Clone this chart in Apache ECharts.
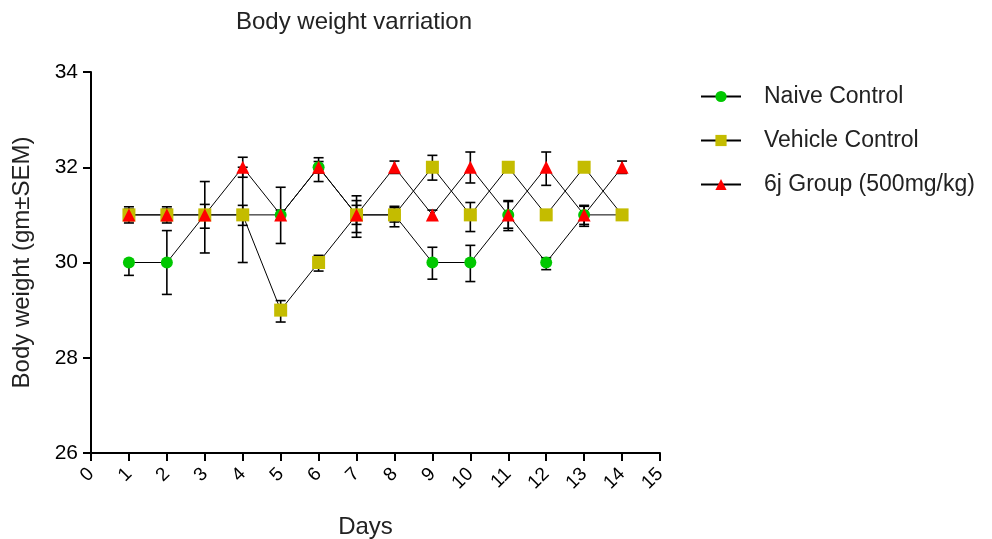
<!DOCTYPE html>
<html>
<head>
<meta charset="utf-8">
<script src="https://cdn.jsdelivr.net/npm/echarts@6/dist/echarts.min.js"></script>
<style>
html,body{margin:0;padding:0;background:#fff;}
#chart{width:992px;height:539px;}
</style>
</head>
<body>
<div id="chart"></div>
<script>
// ---- data ----
const days = [1,2,3,4,5,6,7,8,9,10,11,12,13,14];
const xTicks = [0,1,2,3,4,5,6,7,8,9,10,11,12,13,14,15];
const yTicks = [26,28,30,32,34];

const naiveName = 'Naive Control';
const naiveValues = [30,30,31,31,31,32,31,31,30,30,31,30,31,31];
const naiveErrUp   = [0,0.67,0.7,1.0,0.58,0.2,0.4,0.15,0.32,0.36,0.3,0.1,0.18,0.1];
const naiveErrDown = [0.27,0.67,0.8,1.0,0.6,0.3,0.47,0.15,0.35,0.4,0.33,0.15,0.24,0.1];

const vehicleName = 'Vehicle Control';
const vehicleValues = [31,31,31,31,29,30,31,31,32,31,32,31,32,31];
const vehicleErrUp   = [0.17,0.17,0.22,0.2,0.2,0.15,0.2,0.18,0.25,0.26,0.1,0.1,0.1,0.1];
const vehicleErrDown = [0.17,0.17,0.28,0.22,0.25,0.18,0.2,0.25,0.27,0.35,0.1,0.1,0.1,0.1];

const groupName = '6j Group (500mg/kg)';
const groupValues = [31,31,31,32,31,32,31,32,31,32,31,32,31,32];
const groupErrUp   = [0.12,0.12,0.1,0.21,0.1,0.12,0.3,0.13,0.1,0.32,0.28,0.32,0.2,0.13];
const groupErrDown = [0.12,0.12,0.1,0.21,0.1,0.12,0.37,0.13,0.1,0.33,0.28,0.38,0.2,0.13];

// ---- build ----
const FONT = 'Liberation Sans, Arial, sans-serif';
function pts(vals){ return days.map((d,i)=>[d, vals[i]]); }
function errData(vals, up, down){ return days.map((d,i)=>[d, vals[i], down[i], up[i]]); }

function errSeries(vals, up, down){
  return {
    type:'custom',
    z:2,
    silent:true,
    data: errData(vals, up, down),
    encode:{x:0,y:1},
    renderItem: function(params, api){
      const x = api.value(0), y = api.value(1), lo = api.value(2), hi = api.value(3);
      const top = api.coord([x, y + hi]);
      const bot = api.coord([x, y - lo]);
      const hw = 5;
      const st = {stroke:'#000', lineWidth:1.6};
      const ch = [{type:'line', shape:{x1:top[0],y1:top[1],x2:bot[0],y2:bot[1]}, style:st}];
      if (hi > 0) ch.push({type:'line', shape:{x1:top[0]-hw,y1:top[1],x2:top[0]+hw,y2:top[1]}, style:st});
      if (lo > 0) ch.push({type:'line', shape:{x1:bot[0]-hw,y1:bot[1],x2:bot[0]+hw,y2:bot[1]}, style:st});
      return {type:'group', children: ch};
    }
  };
}

function lineSeries(name, vals, symbol, size, color){
  return {
    name: name,
    type:'line',
    z:3,
    data: pts(vals),
    symbol: symbol,
    symbolSize: size,
    showAllSymbol:true,
    itemStyle:{color: color, borderWidth:0},
    lineStyle:{color:'#000', width:1},
    emphasis:{disabled:true}
  };
}

const chart = echarts.init(document.getElementById('chart'), null, {renderer:'canvas'});
chart.setOption({
  animation:false,
  backgroundColor:'#fff',
  textStyle:{fontFamily:FONT},
  title:{
    text:'Body weight varriation',
    left:354, top:10, textAlign:'center', padding:0,
    textStyle:{fontFamily:FONT, fontSize:24, fontWeight:'normal', color:'#222'}
  },
  legend:{
    data:[naiveName, vehicleName, groupName],
    orient:'vertical',
    left:700, top:85, padding:0,
    itemWidth:40, itemHeight:14, itemGap:21,
    textStyle:{fontFamily:FONT, fontSize:23, color:'#222', padding:[0,0,0,18]}
  },
  grid:{left:91, right:332, top:72, bottom:86, containLabel:false, outerBoundsMode:'none'},
  xAxis:{
    type:'value', min:0, max:15, interval:1,
    name:'Days', nameLocation:'middle', nameGap:62,
    nameTextStyle:{fontFamily:FONT, fontSize:24, color:'#222', padding:[0,20,0,0]},
    axisLine:{show:true, onZero:false, lineStyle:{color:'#000', width:2}},
    axisTick:{show:true, length:8, lineStyle:{color:'#000', width:2}},
    axisLabel:{rotate:45, fontSize:19, color:'#000', margin:18, fontFamily:FONT,
      formatter:function(v){ return xTicks.indexOf(v) >= 0 ? String(v) : ''; }},
    splitLine:{show:false}
  },
  yAxis:{
    type:'value', min:26, max:34, interval:2,
    name:'Body weight (gm±SEM)', nameLocation:'middle', nameGap:57,
    nameTextStyle:{fontFamily:FONT, fontSize:24, color:'#222'},
    axisLine:{show:true, lineStyle:{color:'#000', width:2}},
    axisTick:{show:true, length:8, lineStyle:{color:'#000', width:2}},
    axisLabel:{fontSize:21, color:'#000', margin:13, fontFamily:FONT,
      formatter:function(v){ return yTicks.indexOf(v) >= 0 ? String(v) : ''; }},
    splitLine:{show:false}
  },
  series:[
    errSeries(naiveValues, naiveErrUp, naiveErrDown),
    errSeries(vehicleValues, vehicleErrUp, vehicleErrDown),
    errSeries(groupValues, groupErrUp, groupErrDown),
    lineSeries(naiveName, naiveValues, 'circle', 12, '#00c800'),
    lineSeries(vehicleName, vehicleValues, 'rect', 13, '#c4bc00'),
    lineSeries(groupName, groupValues, 'triangle', 13, '#ff0000')
  ]
});
</script>
</body>
</html>
